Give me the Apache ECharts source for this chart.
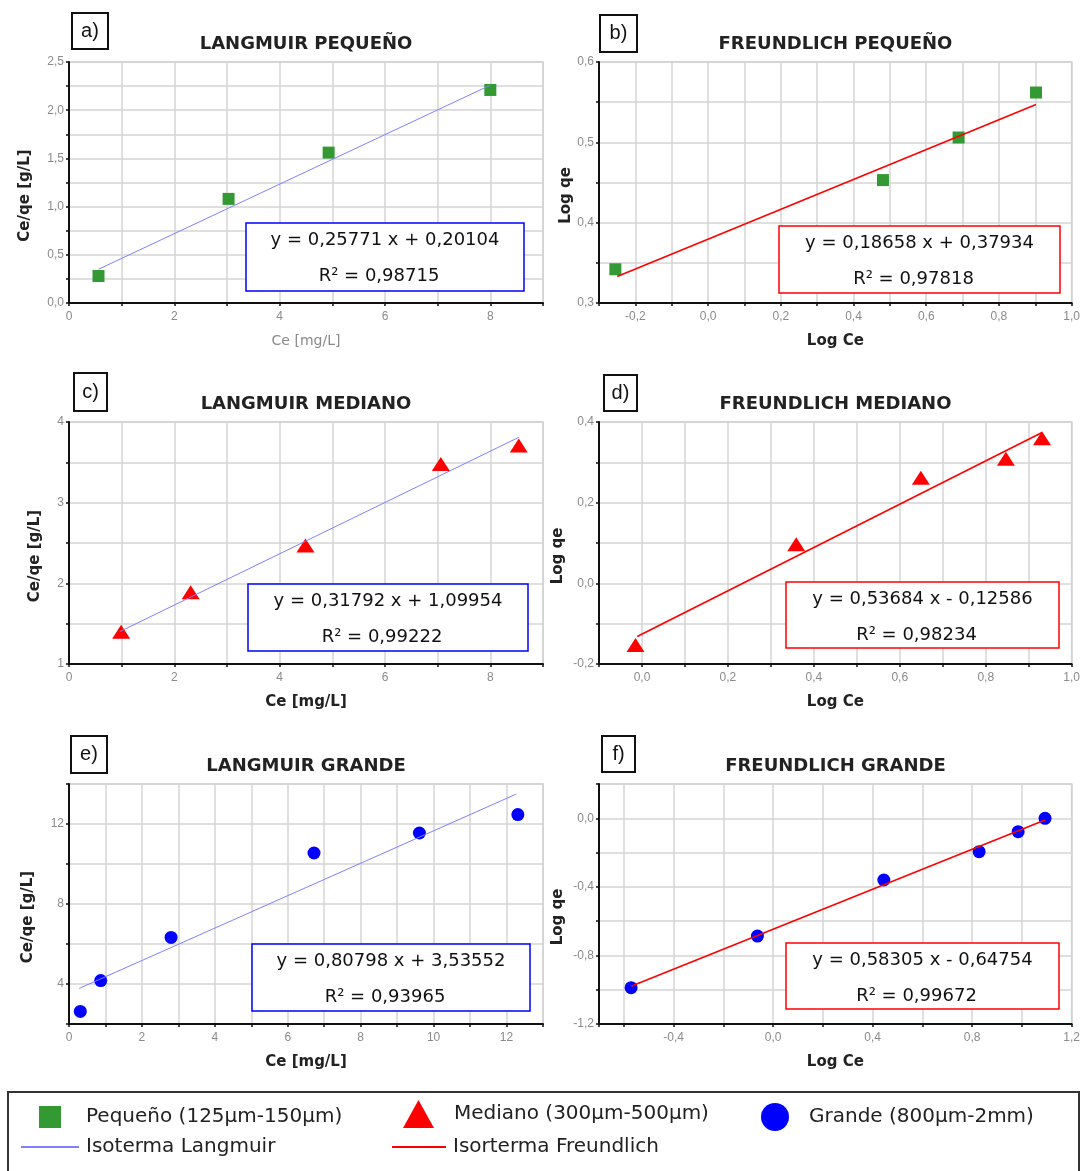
<!DOCTYPE html>
<html><head><meta charset="utf-8">
<script src="https://cdn.jsdelivr.net/npm/echarts@6/dist/echarts.min.js"></script>
<style>html,body{margin:0;padding:0;background:#fff}#c{width:1083px;height:1171px}</style>
</head><body><div id="c"></div>
<script>
// ---------- DATA ----------
const panelTitles = ['LANGMUIR PEQUEÑO','FREUNDLICH PEQUEÑO','LANGMUIR MEDIANO','FREUNDLICH MEDIANO','LANGMUIR GRANDE','FREUNDLICH GRANDE'];
const panelTags = ['a)','b)','c)','d)','e)','f)'];
const equations = ['y = 0,25771 x + 0,20104','y = 0,18658 x + 0,37934','y = 0,31792 x + 1,09954','y = 0,53684 x - 0,12586','y = 0,80798 x + 3,53552','y = 0,58305 x - 0,64754'];
const r2Values = ['R² = 0,98715','R² = 0,97818','R² = 0,99222','R² = 0,98234','R² = 0,93965','R² = 0,99672'];
const seriesNames = ['Pequeño (125µm-150µm)','Mediano (300µm-500µm)','Grande (800µm-2mm)'];
const lineNames = ['Isoterma Langmuir','Isorterma Freundlich'];

// measured points
const peqLangX = [0.56, 3.03, 4.93, 8.0];
const peqLangY = [0.28, 1.08, 1.56, 2.21];
const peqFreuX = [-0.255, 0.481, 0.689, 0.902];
const peqFreuY = [0.342, 0.453, 0.506, 0.562];
const medLangX = [0.99, 2.31, 4.49, 7.06, 8.54];
const medLangY = [1.40, 1.89, 2.47, 3.48, 3.71];
const medFreuX = [-0.015, 0.359, 0.649, 0.847, 0.931];
const medFreuY = [-0.153, 0.097, 0.262, 0.309, 0.360];
const graLangX = [0.31, 0.87, 2.80, 6.72, 9.61, 12.31];
const graLangY = [2.63, 4.17, 6.33, 10.55, 11.55, 12.47];
const graFreuX = [-0.571, -0.063, 0.445, 0.828, 0.985, 1.093];
const graFreuY = [-0.988, -0.687, -0.360, -0.195, -0.078, 0.0];

// fit lines (endpoints)
const peqLangFitX = [0.56, 8.0];   const peqLangFitY = [0.35, 2.26];
const peqFreuFitX = [-0.25, 0.902]; const peqFreuFitY = [0.333, 0.547];
const medLangFitX = [0.96, 8.54];  const medLangFitY = [1.40, 3.81];
const medFreuFitX = [-0.011, 0.931]; const medFreuFitY = [-0.132, 0.374];
const graLangFitX = [0.28, 12.27]; const graLangFitY = [3.78, 13.50];
const graFreuFitX = [-0.571, 1.093]; const graFreuFitY = [-0.98, -0.01];

// axes: ranges, grid ticks, labels
const aXTicks = [0,1,2,3,4,5,6,7,8,9];            const aXLabels = [0,2,4,6,8];
const aYTicks = [0,0.25,0.5,0.75,1,1.25,1.5,1.75,2,2.25,2.5]; const aYLabels = [0,0.5,1,1.5,2,2.5];
const bXTicks = [-0.3,-0.2,-0.1,0,0.1,0.2,0.3,0.4,0.5,0.6,0.7,0.8,0.9,1.0]; const bXLabels = [-0.2,0,0.2,0.4,0.6,0.8,1.0];
const bYTicks = [0.3,0.35,0.4,0.45,0.5,0.55,0.6];  const bYLabels = [0.3,0.4,0.5,0.6];
const cXTicks = [0,1,2,3,4,5,6,7,8,9];            const cXLabels = [0,2,4,6,8];
const cYTicks = [1,1.5,2,2.5,3,3.5,4];             const cYLabels = [1,2,3,4];
const dXTicks = [-0.1,0,0.1,0.2,0.3,0.4,0.5,0.6,0.7,0.8,0.9,1.0]; const dXLabels = [0,0.2,0.4,0.6,0.8,1.0];
const dYTicks = [-0.2,-0.1,0,0.1,0.2,0.3,0.4];     const dYLabels = [-0.2,0,0.2,0.4];
const eXTicks = [0,1,2,3,4,5,6,7,8,9,10,11,12,13]; const eXLabels = [0,2,4,6,8,10,12];
const eYTicks = [2,4,6,8,10,12,14];                const eYLabels = [4,8,12];
const fXTicks = [-0.7,-0.6,-0.4,-0.2,0,0.2,0.4,0.6,0.8,1.0,1.2]; const fXLabels = [-0.4,0,0.4,0.8,1.2];
const fYTicks = [-1.2,-1.0,-0.8,-0.6,-0.4,-0.2,0,0.2]; const fYLabels = [-1.2,-0.8,-0.4,0];

// ---------- LAYOUT / STYLE ----------
const GREEN = '#339933', RED = '#ff0000', BLUE = '#0000ff', LBLUE = '#8080ff';
const grids = [
  {left:69, top:62, width:474, height:241},
  {left:599, top:62, width:473, height:241},
  {left:69, top:422, width:474, height:242},
  {left:599, top:422, width:473, height:242},
  {left:69, top:784, width:474, height:240},
  {left:599, top:784, width:473, height:240}
];
const axisCfg = [
  {xr:[0,9], xt:aXTicks, xl:aXLabels, xd:0, yr:[0,2.5], yt:aYTicks, yl:aYLabels, yd:1, xn:'Ce [mg/L]', yn:'Ce/qe [g/L]', ygap:36, xgray:true},
  {xr:[-0.3,1.0], xt:bXTicks, xl:bXLabels, xd:1, yr:[0.3,0.6], yt:bYTicks, yl:bYLabels, yd:1, xn:'Log Ce', yn:'Log qe', ygap:24},
  {xr:[0,9], xt:cXTicks, xl:cXLabels, xd:0, yr:[1,4], yt:cYTicks, yl:cYLabels, yd:0, xn:'Ce [mg/L]', yn:'Ce/qe [g/L]', ygap:26},
  {xr:[-0.1,1.0], xt:dXTicks, xl:dXLabels, xd:1, yr:[-0.2,0.4], yt:dYTicks, yl:dYLabels, yd:1, xn:'Log Ce', yn:'Log qe', ygap:33},
  {xr:[0,13], xt:eXTicks, xl:eXLabels, xd:0, yr:[2,14], yt:eYTicks, yl:eYLabels, yd:0, xn:'Ce [mg/L]', yn:'Ce/qe [g/L]', ygap:33},
  {xr:[-0.7,1.2], xt:fXTicks, xl:fXLabels, xd:1, yr:[-1.2,0.2], yt:fYTicks, yl:fYLabels, yd:1, xn:'Log Ce', yn:'Log qe', ygap:33}
];
const titleTops = [35, 35, 395, 395, 757, 757];
const tagBoxes = [[72,13,36,36],[600,15,37,37],[74,373,33,38],[604,375,33,36],[71,736,36,37],[602,736,33,36]];
const eqBoxes = [[246,223,278,68],[779,226,281,67],[248,584,280,67],[786,582,273,66],[252,944,278,67],[786,943,273,66]];

const fmt = d => v => Number(v).toFixed(d).replace('.', ',');
const AX_COLOR = '#111';
const LABEL_STYLE = {color:'#8a8a8a', fontSize:12, fontFamily:'Liberation Sans'};
const NAME_STYLE = {color:'#222', fontSize:15, fontWeight:'bold', fontFamily:'DejaVu Sans'};

const xAxes = [], yAxes = [];
axisCfg.forEach((c, i) => {
  xAxes.push({
    gridIndex:i, type:'value', min:c.xr[0], max:c.xr[1],
    name:c.xn, nameLocation:'middle', nameGap:31,
    nameTextStyle: c.xgray ? {color:'#8a8a8a', fontSize:14, fontFamily:'DejaVu Sans'} : NAME_STYLE,
    axisLine:{show:true, onZero:false, lineStyle:{color:AX_COLOR, width:2}},
    axisTick:{show:true, customValues:c.xt, length:3, lineStyle:{color:AX_COLOR, width:1.5}},
    axisLabel:{customValues:c.xl, formatter:fmt(c.xd), margin:8, ...LABEL_STYLE},
    splitLine:{show:true, lineStyle:{color:'#d4d4d4', width:1.5}}
  });
  yAxes.push({
    gridIndex:i, type:'value', min:c.yr[0], max:c.yr[1],
    name:c.yn, nameLocation:'middle', nameGap:c.ygap,
    nameTextStyle:{...NAME_STYLE, padding:[0,26,0,0]},
    axisLine:{show:true, onZero:false, lineStyle:{color:AX_COLOR, width:2}},
    axisTick:{show:true, customValues:c.yt, length:3, lineStyle:{color:AX_COLOR, width:1.5}},
    axisLabel:{customValues:c.yl, formatter:fmt(c.yd), margin:5, ...LABEL_STYLE},
    splitLine:{show:true, lineStyle:{color:'#d4d4d4', width:1.5}}
  });
});

const zip = (xs, ys) => xs.map((x, k) => [x, ys[k]]);
const pointSets = [
  [peqLangX, peqLangY], [peqFreuX, peqFreuY],
  [medLangX, medLangY], [medFreuX, medFreuY],
  [graLangX, graLangY], [graFreuX, graFreuY]
];
const fitSets = [
  [peqLangFitX, peqLangFitY], [peqFreuFitX, peqFreuFitY],
  [medLangFitX, medLangFitY], [medFreuFitX, medFreuFitY],
  [graLangFitX, graLangFitY], [graFreuFitX, graFreuFitY]
];
const markerStyle = [
  {symbol:'rect', size:12, color:GREEN},
  {symbol:'triangle', size:[18,14], color:RED},
  {symbol:'circle', size:13, color:BLUE}
];

const series = [];
for (let i = 0; i < 6; i++) {
  const g = Math.floor(i / 2), isLang = i % 2 === 0;
  const m = markerStyle[g];
  series.push({
    type:'scatter', name:seriesNames[g], xAxisIndex:i, yAxisIndex:i,
    data:zip(pointSets[i][0], pointSets[i][1]),
    symbol:m.symbol, symbolSize:m.size, itemStyle:{color:m.color, opacity:1}, color:m.color,
    z:2, silent:true
  });
  series.push({
    type:'line', name:isLang ? lineNames[0] : lineNames[1], xAxisIndex:i, yAxisIndex:i,
    data:zip(fitSets[i][0], fitSets[i][1]), symbol:'none', showSymbol:false,
    color: isLang ? LBLUE : RED,
    lineStyle:{color: isLang ? LBLUE : RED, width: isLang ? 1 : 1.6},
    z:3, silent:true
  });
}

const titles = panelTitles.map((t, i) => ({
  text:t, left: grids[i].left + grids[i].width / 2, top: titleTops[i], textAlign:'center', padding:0,
  textStyle:{fontFamily:'DejaVu Sans', fontWeight:'bold', fontSize:18, color:'#222'}
}));

const graphics = [];
tagBoxes.forEach((b, i) => {
  graphics.push({type:'rect', shape:{x:b[0], y:b[1], width:b[2], height:b[3]},
    style:{fill:'#fff', stroke:'#111', lineWidth:2}, z:100});
  graphics.push({type:'text', x:b[0] + b[2] / 2, y:b[1] + b[3] / 2, z:101,
    style:{text:panelTags[i], fill:'#111', font:'20px "Liberation Sans"', align:'center', verticalAlign:'middle'}});
});
eqBoxes.forEach((b, i) => {
  const col = i % 2 === 0 ? BLUE : RED;
  graphics.push({type:'rect', shape:{x:b[0], y:b[1], width:b[2], height:b[3]},
    style:{fill:'#fff', stroke:col, lineWidth:1.5}, z:100});
  graphics.push({type:'text', x:b[0] + b[2] / 2, y:b[1] + 17, z:101,
    style:{text:equations[i], fill:'#111', font:'18px "DejaVu Sans"', align:'center', verticalAlign:'middle'}});
  graphics.push({type:'text', x:b[0] + b[2] / 2 - 6, y:b[1] + 53, z:101,
    style:{text:r2Values[i], fill:'#111', font:'18px "DejaVu Sans"', align:'center', verticalAlign:'middle'}});
});
// legend frame
graphics.push({type:'rect', shape:{x:8, y:1092, width:1071, height:100},
  style:{fill:'none', stroke:'#333', lineWidth:2}, z:50});

const LEG_TEXT = {fontFamily:'DejaVu Sans', fontSize:20, color:'#222'};
const legends = [
  {data:[{name:seriesNames[0], icon:'rect', itemStyle:{color:GREEN, opacity:1}}], left:39, top:1106, itemWidth:22, itemHeight:22, textStyle:{...LEG_TEXT, padding:[0,0,0,20]}},
  {data:[{name:seriesNames[1], icon:'triangle', itemStyle:{color:RED, opacity:1}}], left:403, top:1100, itemWidth:31, itemHeight:28, textStyle:{...LEG_TEXT, padding:[0,0,0,15]}},
  {data:[{name:seriesNames[2], icon:'circle', itemStyle:{color:BLUE, opacity:1}}], left:761, top:1103, itemWidth:28, itemHeight:28, textStyle:{...LEG_TEXT, padding:[0,0,0,15]}},
  {data:[{name:lineNames[0], icon:'path://M0,0 L58,0 L58,2 L0,2 Z', itemStyle:{color:LBLUE, opacity:1}}], left:21, top:1137, itemWidth:58, itemHeight:22, textStyle:{...LEG_TEXT, padding:[0,0,0,2]}},
  {data:[{name:lineNames[1], icon:'path://M0,0 L58,0 L58,2 L0,2 Z', itemStyle:{color:RED, opacity:1}}], left:392, top:1137, itemWidth:54, itemHeight:22, textStyle:{...LEG_TEXT, padding:[0,0,0,2]}}
].map(l => ({...l, orient:'horizontal', padding:0, selectedMode:false, itemGap:0}));

const chart = echarts.init(document.getElementById('c'), null, {renderer:'canvas'});
chart.setOption({
  backgroundColor:'#fff',
  animation:false,
  textStyle:{fontFamily:'Liberation Sans'},
  title:titles,
  grid:grids.map(g => ({...g, show:true, borderColor:'#c8c8c8', borderWidth:1.5, containLabel:false})),
  xAxis:xAxes,
  yAxis:yAxes,
  legend:legends,
  series:series,
  graphic:graphics
});
</script></body></html>
